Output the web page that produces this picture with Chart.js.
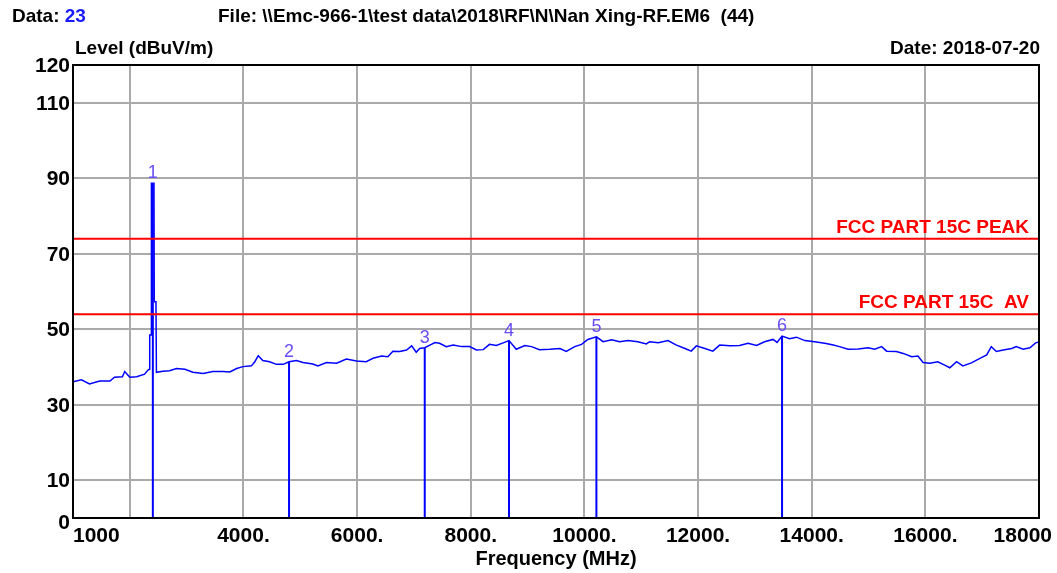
<!DOCTYPE html>
<html>
<head>
<meta charset="utf-8">
<script src="https://cdn.jsdelivr.net/npm/chart.js@4"></script>
<style>
  body { margin: 0; background: #fff; }
  #wrap { width: 1057px; height: 573px; }
</style>
</head>
<body>
<div id="wrap"><canvas id="emcChart" width="1057" height="573"></canvas></div>
<script>
// trace (MHz / dBuV/m)
const traceFreq = [1000, 1150, 1290, 1470, 1650, 1730, 1870, 1910, 2000, 2120, 2260, 2320, 2345, 2350, 2375, 2380, 2425, 2430, 2460, 2468,
    2580, 2700, 2820, 2970, 3110, 3290, 3460, 3640, 3760, 3880, 3990, 4140, 4200, 4260, 4340, 4460, 4580, 4700, 4802, 4930,
    5050, 5220, 5310, 5460, 5640, 5810, 5990, 6160, 6280, 6430, 6540, 6630, 6750, 6870, 6960, 7040, 7100, 7190, 7280, 7370,
    7450, 7570, 7690, 7840, 7980, 8100, 8220, 8330, 8450, 8570, 8673, 8800, 8950, 9070, 9210, 9390, 9570, 9680, 9830, 9950,
    10060, 10211, 10330, 10480, 10620, 10770, 10940, 11090, 11150, 11300, 11470, 11620, 11770, 11880, 11970, 12120, 12260, 12380, 12560, 12730,
    12880, 13030, 13170, 13320, 13390, 13478, 13610, 13730, 13880, 14050, 14230, 14380, 14490, 14640, 14820, 14990, 15110, 15230, 15320, 15490,
    15610, 15760, 15870, 15960, 16080, 16220, 16340, 16430, 16550, 16660, 16810, 16960, 17080, 17160, 17250, 17370, 17520, 17600, 17720, 17840,
    17940, 18000];
const traceLevel = [36.1, 36.6, 35.5, 36.3, 36.3, 37.3, 37.4, 38.8, 37.3, 37.4, 38.1, 39.2, 39.4, 48.5, 48.5, 88.7, 88.7, 57.3, 57.3, 38.6,
    38.9, 39.0, 39.6, 39.4, 38.6, 38.3, 38.8, 38.8, 38.7, 39.6, 40.1, 40.3, 41.4, 43.0, 41.7, 41.4, 40.7, 40.7, 41.4, 41.7,
    41.2, 40.8, 40.3, 41.2, 41.0, 42.1, 41.6, 41.4, 42.3, 42.9, 42.7, 44.2, 44.1, 44.5, 45.6, 43.9, 44.9, 45.1, 45.8, 46.5,
    46.3, 45.4, 45.8, 45.4, 45.4, 44.5, 44.6, 46.0, 45.7, 46.4, 47.0, 44.7, 45.7, 45.4, 44.6, 44.7, 44.9, 44.1, 45.4, 46.0,
    47.3, 48.0, 46.7, 47.2, 46.7, 47.0, 46.7, 46.1, 46.7, 46.4, 47.0, 45.8, 44.9, 44.2, 45.6, 44.9, 44.2, 45.8, 45.6, 45.7,
    46.3, 45.7, 46.7, 47.3, 46.5, 48.2, 47.5, 47.9, 47.0, 46.7, 46.3, 45.8, 45.4, 44.7, 44.8, 45.1, 44.7, 45.4, 44.2, 44.1,
    43.6, 42.7, 42.9, 41.2, 41.0, 41.4, 40.5, 39.8, 41.4, 40.3, 41.1, 42.3, 43.2, 45.4, 44.1, 44.5, 44.9, 45.4, 44.7, 45.1,
    46.4, 46.6];

const markerFreq = [2405, 4802, 7190, 8673, 10211, 13478];
const markerLevel = [88.7, 41.4, 45.1, 47.0, 48.0, 48.2];
const markerNames = ['1', '2', '3', '4', '5', '6'];

const limitLevel = [74, 54];
const limitNames = ['FCC PART 15C PEAK', 'FCC PART 15C  AV'];

const yTicks = [0, 10, 30, 50, 70, 90, 110, 120];
const xTicks = [1000, 2000, 4000, 6000, 8000, 10000, 12000, 14000, 16000, 18000];
const xTickLabels = ['1000', '', '4000.', '6000.', '8000.', '10000.', '12000.', '14000.', '16000.', '18000'];

const fileText = 'File: \\\\Emc-966-1\\test data\\2018\\RF\\N\\Nan Xing-RF.EM6  (44)';
const FONT = '"Liberation Sans", Arial, sans-serif';

const datasets = [];
limitLevel.forEach(lvl => {
    datasets.push({
        data: [{x: 1000, y: lvl}, {x: 18000, y: lvl}],
        borderColor: '#ff0000',
        borderWidth: 2
    });
});
datasets.push({
    data: traceFreq.map((f, i) => ({x: f, y: traceLevel[i]})),
    borderColor: '#0000ff',
    borderWidth: 1.5
});
markerFreq.forEach((f, i) => {
    datasets.push({
        data: [{x: f, y: 0}, {x: f, y: markerLevel[i]}],
        borderColor: '#0000ff',
        borderWidth: 2
    });
});

// all the texts round the plot
const textPlugin = {
    id: 'emcText',
    afterDraw(chart) {
        const {ctx, chartArea} = chart;
        const xs = chart.scales.x;
        const ys = chart.scales.y;
        ctx.save();

        ctx.strokeStyle = '#000';
        ctx.lineWidth = 2;
        ctx.strokeRect(chartArea.left, chartArea.top, chartArea.width, chartArea.height);

        // header
        ctx.textAlign = 'left';
        ctx.font = 'bold 19px ' + FONT;
        ctx.fillStyle = '#000';
        ctx.fillText('Data: ', 12, 22);
        const w = ctx.measureText('Data: ').width;
        ctx.fillStyle = '#1a1aff';
        ctx.fillText('23', 12 + w, 22);
        ctx.fillStyle = '#000';
        ctx.fillText(fileText, 218, 22, 552);
        ctx.fillText('Level (dBuV/m)', chartArea.left + 2, 54, 143);
        ctx.textAlign = 'right';
        ctx.fillText('Date: 2018-07-20', chartArea.right + 1, 54, 166);

        // y labels
        ctx.font = 'bold 21px ' + FONT;
        yTicks.forEach(v => {
            let py = ys.getPixelForValue(v) + 7;
            if (v === 0) py += 4;
            ctx.fillText(String(v), chartArea.left - 3, py);
        });

        // x labels
        xTicks.forEach((v, i) => {
            const px = xs.getPixelForValue(v);
            if (i === 0) {
                ctx.textAlign = 'left';
            } else if (i === xTicks.length - 1) {
                ctx.textAlign = 'right';
            } else {
                ctx.textAlign = 'center';
            }
            const off = i === xTicks.length - 1 ? 13 : 0;
            ctx.fillText(xTickLabels[i], px + off, chartArea.bottom + 24);
        });
        ctx.textAlign = 'center';
        ctx.font = 'bold 20px ' + FONT;
        ctx.fillText('Frequency (MHz)', (chartArea.left + chartArea.right) / 2, chartArea.bottom + 47);

        // limit names
        ctx.textAlign = 'right';
        ctx.font = 'bold 19px ' + FONT;
        ctx.fillStyle = '#ff0000';
        limitLevel.forEach((lvl, i) => {
            ctx.fillText(limitNames[i], chartArea.right - 10, ys.getPixelForValue(lvl) - 6);
        });

        // marker numbers
        ctx.textAlign = 'center';
        ctx.font = '18px ' + FONT;
        ctx.fillStyle = '#6a4cf5';
        markerFreq.forEach((f, i) => {
            ctx.fillText(markerNames[i], xs.getPixelForValue(f), ys.getPixelForValue(markerLevel[i]) - 5);
        });
        ctx.restore();
    }
};

const ctx = document.getElementById('emcChart').getContext('2d');
new Chart(ctx, {
    type: 'line',
    data: {datasets: datasets},
    options: {
        responsive: false,
        animation: false,
        devicePixelRatio: 1,
        layout: {padding: {left: 73, right: 18, top: 65, bottom: 55}},
        elements: {
            point: {radius: 0},
            line: {tension: 0, fill: false}
        },
        plugins: {
            legend: {display: false},
            tooltip: {enabled: false}
        },
        scales: {
            x: {
                type: 'linear',
                min: 1000,
                max: 18000,
                afterBuildTicks: scale => { scale.ticks = xTicks.map(v => ({value: v})); },
                ticks: {display: false},
                border: {display: false},
                grid: {
                    drawTicks: false,
                    lineWidth: 2,
                    color: c => (c.tick && (c.tick.value === 1000 || c.tick.value === 18000)) ? 'rgba(0,0,0,0)' : '#aaaaaa'
                }
            },
            y: {
                type: 'linear',
                min: 0,
                max: 120,
                afterBuildTicks: scale => { scale.ticks = yTicks.map(v => ({value: v})); },
                ticks: {display: false},
                border: {display: false},
                grid: {
                    drawTicks: false,
                    lineWidth: 2,
                    color: c => (c.tick && (c.tick.value === 0 || c.tick.value === 120)) ? 'rgba(0,0,0,0)' : '#aaaaaa'
                }
            }
        }
    },
    plugins: [textPlugin]
});
</script>
</body>
</html>
